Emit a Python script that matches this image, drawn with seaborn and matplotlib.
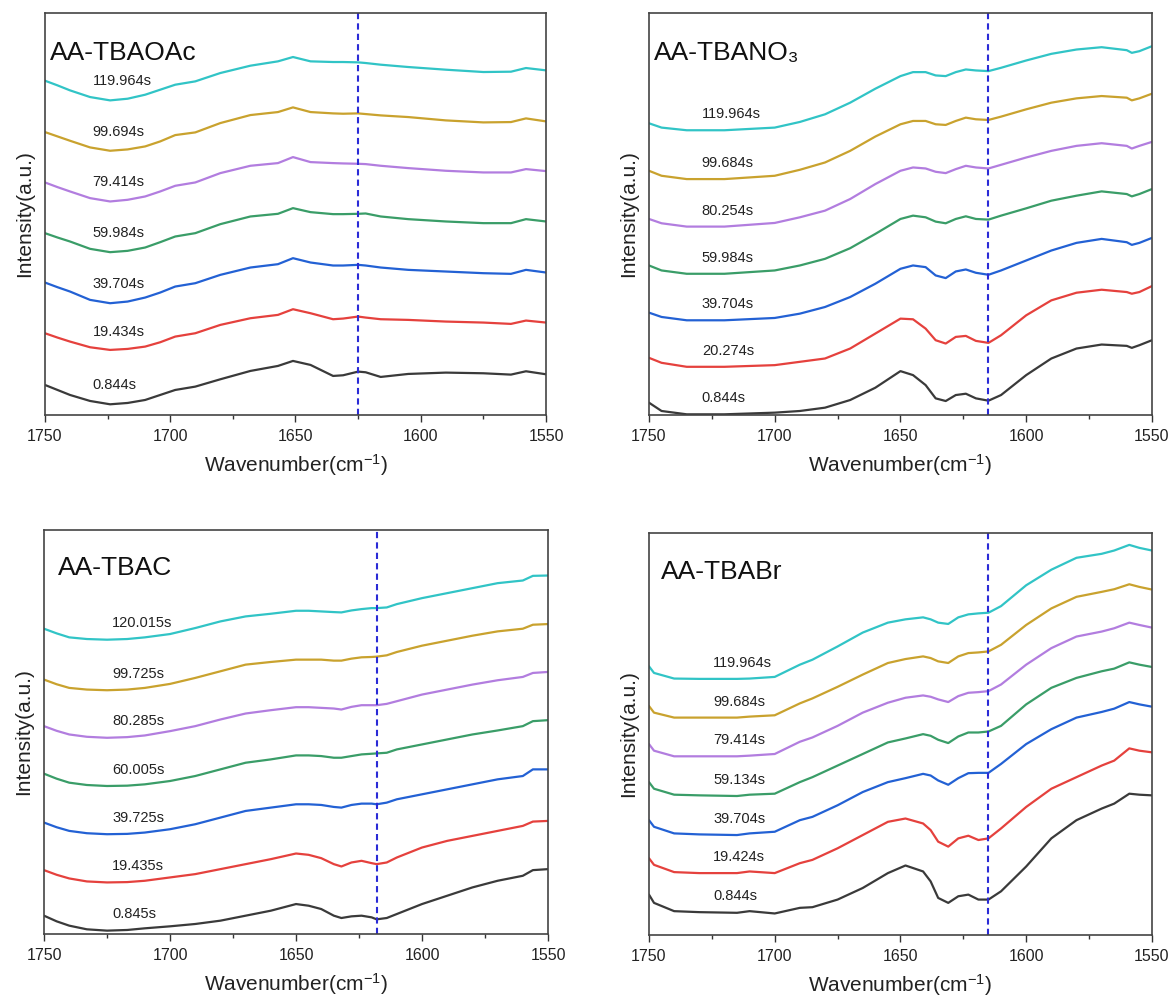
import numpy as np
import pandas as pd
import matplotlib
matplotlib.use("Agg")
import matplotlib.pyplot as plt
from matplotlib.ticker import MultipleLocator
import seaborn as sns

# ---------------- data ----------------
# AA-TBAOAc
oac_wn = [1750, 1745, 1740, 1732, 1724, 1717, 1710, 1704, 1698, 1690, 1680, 1668, 1657, 1651, 1644,
          1635, 1631, 1625, 1622, 1616, 1605, 1590, 1575, 1564, 1558, 1550]
oac_times = ["0.844s", "19.434s", "39.704s", "59.984s", "79.414s", "99.694s", "119.964s"]
oac_0 = [90, 75, 60, 42, 32, 36, 45, 60, 75, 85, 107, 132, 147, 162, 150, 117, 119, 130, 128, 114, 123, 127, 125, 121, 131, 122]
oac_1 = [245, 232, 220, 203, 195, 198, 205, 218, 235, 245, 270, 290, 300, 317, 305, 287, 289, 295, 292, 287, 285, 280, 277, 273, 283, 277]
oac_2 = [397, 383, 370, 345, 335, 340, 352, 367, 385, 395, 420, 442, 452, 470, 457, 448, 448, 450, 448, 442, 435, 430, 425, 423, 435, 427]
oac_3 = [545, 532, 520, 498, 488, 492, 502, 518, 535, 545, 572, 595, 603, 620, 608, 602, 602, 603, 604, 595, 587, 580, 575, 575, 587, 580]
oac_4 = [697, 683, 670, 650, 640, 645, 655, 670, 687, 697, 725, 747, 755, 773, 758, 755, 754, 753, 752, 747, 740, 732, 727, 727, 737, 731]
oac_5 = [848, 835, 822, 802, 792, 796, 805, 820, 839, 847, 875, 899, 908, 922, 908, 904, 903, 904, 902, 898, 893, 883, 877, 878, 889, 880]
oac_6 = [1002, 988, 973, 953, 943, 948, 960, 975, 990, 1000, 1025, 1047, 1060, 1073, 1060, 1058, 1058, 1057, 1055, 1050, 1043, 1035, 1028, 1029, 1040, 1033]

# AA-TBANO3
no3_wn = [1750, 1745, 1735, 1720, 1700, 1690, 1680, 1670, 1660, 1650, 1645, 1640, 1636, 1632,
          1628, 1624, 1620, 1615, 1610, 1600, 1590, 1580, 1570, 1560, 1558, 1555, 1550]
no3_times = ["0.844s", "20.274s", "39.704s", "59.984s", "80.254s", "99.684s", "119.964s"]
no3_0 = [37, 12, 2, 2, 7, 12, 22, 45, 82, 132, 120, 90, 50, 42, 60, 64, 50, 43, 60, 120, 170, 200, 212, 208, 202, 210, 225]
no3_1 = [172, 157, 145, 145, 150, 160, 170, 200, 245, 290, 288, 260, 225, 215, 235, 238, 223, 217, 240, 300, 345, 368, 377, 370, 365, 370, 388]
no3_2 = [308, 295, 285, 285, 292, 305, 325, 355, 395, 440, 450, 445, 420, 412, 432, 438, 428, 422, 435, 465, 495, 518, 530, 520, 512, 518, 533]
no3_3 = [450, 435, 425, 425, 435, 450, 470, 502, 545, 590, 600, 595, 582, 577, 590, 598, 590, 588, 600, 622, 645, 660, 673, 665, 658, 665, 680]
no3_4 = [590, 577, 567, 567, 578, 595, 615, 650, 695, 735, 745, 742, 732, 728, 740, 750, 745, 742, 753, 775, 795, 810, 818, 810, 802, 810, 822]
no3_5 = [735, 720, 710, 710, 720, 738, 760, 795, 838, 875, 885, 885, 875, 873, 885, 895, 890, 888, 898, 920, 940, 953, 960, 955, 947, 953, 967]
no3_6 = [878, 865, 857, 857, 865, 882, 905, 940, 982, 1020, 1032, 1032, 1022, 1020, 1032, 1040, 1037, 1035, 1045, 1067, 1087, 1100, 1107, 1098, 1090, 1095, 1110]

# AA-TBAC
tbac_wn = [1750, 1745, 1740, 1733, 1725, 1717, 1710, 1700, 1690, 1680, 1670, 1660, 1650, 1645, 1640, 1635, 1632,
           1628, 1624, 1620, 1618, 1614, 1610, 1600, 1590, 1580, 1570, 1560, 1556, 1550]
tbac_times = ["0.845s", "19.435s", "39.725s", "60.005s", "80.285s", "99.725s", "120.015s"]
tbac_0 = [55, 38, 25, 14, 10, 12, 17, 23, 30, 40, 55, 70, 90, 85, 75, 55, 48, 53, 55, 50, 44, 48, 60, 90, 115, 140, 160, 175, 192, 195]
tbac_1 = [192, 178, 167, 158, 155, 156, 160, 170, 180, 195, 210, 225, 242, 238, 228, 210, 203, 215, 220, 213, 210, 215, 230, 260, 280, 295, 310, 325, 338, 340]
tbac_2 = [335, 321, 310, 303, 300, 301, 305, 315, 330, 350, 370, 380, 390, 390, 388, 382, 380, 388, 392, 392, 390, 395, 405, 420, 435, 450, 465, 475, 495, 495]
tbac_3 = [482, 467, 455, 448, 445, 446, 450, 460, 475, 495, 515, 525, 537, 537, 535, 530, 530, 535, 540, 542, 543, 545, 555, 570, 585, 600, 612, 625, 640, 643]
tbac_4 = [625, 611, 600, 593, 590, 592, 597, 610, 625, 645, 663, 673, 682, 682, 680, 678, 675, 683, 688, 688, 688, 692, 700, 720, 735, 750, 763, 773, 785, 788]
tbac_5 = [765, 751, 740, 735, 733, 735, 740, 752, 770, 790, 810, 818, 825, 825, 825, 822, 822, 828, 832, 833, 834, 838, 848, 867, 882, 897, 910, 918, 930, 932]
tbac_6 = [918, 904, 892, 887, 885, 887, 892, 902, 920, 940, 955, 963, 972, 972, 970, 968, 967, 973, 977, 980, 980, 982, 992, 1010, 1025, 1040, 1055, 1063, 1077, 1078]

# AA-TBABr
br_wn = [1750, 1748, 1740, 1730, 1715, 1710, 1700, 1690, 1685, 1675, 1665, 1655, 1648, 1641, 1638,
         1635, 1631, 1627, 1623, 1619, 1615, 1610, 1600, 1590, 1580, 1570, 1565, 1559, 1555, 1550]
br_times = ["0.844s", "19.424s", "39.704s", "59.134s", "79.414s", "99.684s", "119.964s"]
br_0 = [122, 97, 72, 69, 67, 72, 65, 82, 84, 107, 142, 187, 210, 192, 162, 112, 97, 117, 122, 107, 107, 132, 207, 292, 347, 382, 397, 427, 424, 422]
br_1 = [232, 212, 190, 187, 187, 192, 187, 217, 227, 262, 302, 342, 352, 337, 317, 282, 267, 292, 300, 287, 292, 322, 387, 442, 477, 512, 527, 564, 557, 552]
br_2 = [347, 327, 307, 304, 302, 307, 312, 347, 357, 392, 432, 462, 474, 487, 482, 467, 454, 474, 489, 490, 490, 517, 577, 622, 657, 674, 684, 704, 697, 690]
br_3 = [462, 442, 424, 422, 420, 424, 427, 462, 477, 512, 547, 582, 594, 607, 602, 590, 580, 600, 612, 612, 615, 632, 697, 747, 777, 797, 805, 824, 817, 810]
br_4 = [577, 557, 540, 540, 540, 542, 547, 584, 597, 632, 672, 702, 717, 724, 720, 712, 704, 722, 732, 734, 737, 757, 817, 867, 902, 917, 927, 944, 937, 929]
br_5 = [692, 672, 657, 657, 657, 660, 664, 700, 715, 750, 787, 822, 834, 842, 837, 827, 822, 842, 852, 854, 857, 877, 937, 987, 1022, 1037, 1045, 1060, 1052, 1044]
br_6 = [812, 792, 775, 774, 774, 775, 780, 817, 832, 872, 914, 944, 954, 960, 954, 944, 940, 960, 969, 972, 974, 994, 1057, 1104, 1140, 1152, 1162, 1179, 1170, 1162]

titles = ["AA-TBAOAc", "AA-TBANO\u2083", "AA-TBAC", "AA-TBABr"]
marker_wn = [1625, 1615, 1618, 1615]

# ---------------- style ----------------
sns.set_theme(style="ticks")
plt.rcParams["font.family"] = ["Liberation Sans", "DejaVu Sans"]
plt.rcParams["mathtext.fontset"] = "custom"
plt.rcParams["mathtext.rm"] = "Liberation Sans"
plt.rcParams["mathtext.it"] = "Liberation Sans:italic"

colors = ["#3a3a3a", "#e5413d", "#2361d4", "#3a9d68", "#b27ddf", "#c9a22e", "#31c4c6"]

panels = [
    (oac_wn, oac_times, [oac_0, oac_1, oac_2, oac_3, oac_4, oac_5, oac_6], 1205, 1731),
    (no3_wn, no3_times, [no3_0, no3_1, no3_2, no3_3, no3_4, no3_5, no3_6], 1210, 1729),
    (tbac_wn, tbac_times, [tbac_0, tbac_1, tbac_2, tbac_3, tbac_4, tbac_5, tbac_6], 1215, 1723),
    (br_wn, br_times, [br_0, br_1, br_2, br_3, br_4, br_5, br_6], 1215, 1724.5),
]
title_pos = [(0.010, 0.90), (0.009, 0.90), (0.028, 0.905), (0.024, 0.903)]
axes_rect = [
    [0.0383, 0.5875, 0.4268, 0.3996],
    [0.5528, 0.5875, 0.4284, 0.3996],
    [0.0375, 0.0716, 0.4293, 0.4016],
    [0.5528, 0.0706, 0.4284, 0.3996],
]

fig = plt.figure(figsize=(11.74, 10.06), dpi=100)

for k, (wn, times, series, ytop, lab_x) in enumerate(panels):
    ax = fig.add_axes(axes_rect[k])
    frames = []
    for t, vals in zip(times, series):
        frames.append(pd.DataFrame({"wn": wn, "I": vals, "time": t}))
    df = pd.concat(frames, ignore_index=True)
    sns.lineplot(data=df, x="wn", y="I", hue="time", hue_order=times,
                 palette=colors, estimator=None, sort=False, linewidth=1.6,
                 legend=False, ax=ax)

    # time labels above each spectrum
    for t, vals in zip(times, series):
        y_at = np.interp(lab_x, wn[::-1], vals[::-1])
        ax.text(lab_x, y_at + 0.04 * ytop, t, fontsize=10.5, color="#222222",
                ha="left", va="center")

    ax.axvline(marker_wn[k], color="#2b2bd6", linestyle=(0, (3, 2)), linewidth=1.5)

    ax.set_xlim(1750, 1550)
    ax.set_ylim(0, ytop)
    ax.xaxis.set_major_locator(MultipleLocator(50))
    ax.xaxis.set_minor_locator(MultipleLocator(25))
    ax.tick_params(axis="x", which="major", direction="out", length=5, width=1.0,
                   labelsize=11.5, colors="#333333", pad=5)
    ax.tick_params(axis="x", which="minor", direction="out", length=3, width=1.0,
                   colors="#333333")
    ax.tick_params(axis="x", labelcolor="#222222")
    ax.set_yticks([])
    for sp in ax.spines.values():
        sp.set_color("#444444")
        sp.set_linewidth(1.2)
        sp.set_visible(True)

    ax.set_xlabel("Wavenumber(cm$^{-1}$)", fontsize=15, color="#222222", labelpad=6)
    ax.set_ylabel("Intensity(a.u.)", fontsize=15, color="#222222", labelpad=8)
    tx, ty = title_pos[k]
    ax.text(tx, ty, titles[k], transform=ax.transAxes, fontsize=19,
            color="#111111", ha="left", va="center")

fig.savefig("out.png", dpi=100)
